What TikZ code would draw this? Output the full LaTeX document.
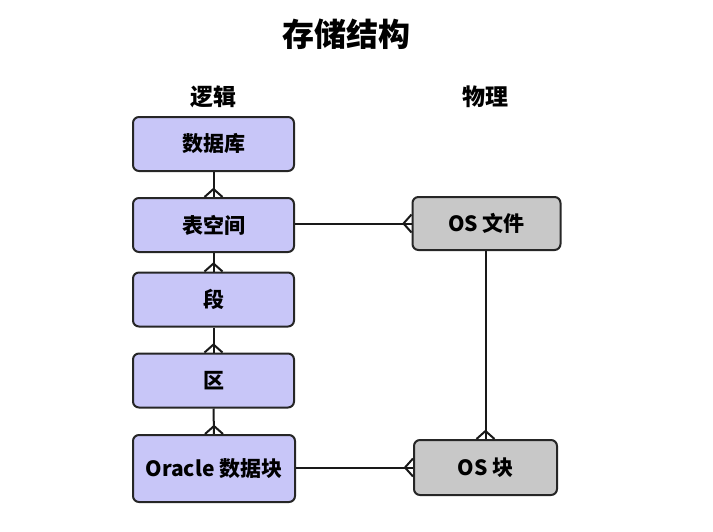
\documentclass[tikz,border=0pt]{standalone}
\usepackage{fontspec}
\setmainfont{Noto Sans CJK SC}
\usepackage{tikz}

\definecolor{logicfill}{RGB}{200,198,248}
\definecolor{physfill}{RGB}{200,200,200}

\tikzset{
    box/.style={draw=black!85, line width=1pt, rounded corners=3pt, fill=logicfill,
        minimum width=80.5pt, minimum height=27pt, inner sep=0pt, font=\fontsize{10.5}{12}\selectfont\bfseries},
    osbox/.style={box, fill=physfill},
    link/.style={line width=1pt, black!90},
    crow/.pic={\draw[link] (-9,0) -- (0,8) -- (9,0);}
}

\begin{document}
\begin{tikzpicture}[x=0.5pt, y=0.5pt]
    \useasboundingbox (0,0) rectangle (713,-531);
    % Title
    \node (title) at (346,-34) {\fontsize{16}{18}\selectfont\bfseries 存储结构};
    \node (logic) at (213,-97) {\fontsize{11.5}{13}\selectfont\bfseries 逻辑};
    \node (phys) at (485,-97) {\fontsize{11.5}{13}\selectfont\bfseries 物理};
    % Logical side
    \node[box] (db) at (213.5,-144) {数据库};
    \node[box] (ts) at (213.5,-225) {表空间};
    \node[box] (seg) at (213.5,-299.5) {段};
    \node[box] (ext) at (213.5,-380.5) {区};
    \node[box, minimum width=81pt, minimum height=33.5pt] (blk) at (214,-468.5) {Oracle 数据块};
    % Physical side
    \node[osbox, minimum width=74pt, minimum height=26.5pt] (osf) at (486.5,-223.5) {OS 文件};
    \node[osbox, minimum width=71.5pt, minimum height=27.5pt] (osb) at (485.5,-467.5) {OS 块};
    % Links
    \draw[link] (db.south) -- (ts.north);
    \pic at (ts.north) {crow};
    \draw[link] (ts.south) -- (seg.north);
    \pic at (seg.north) {crow};
    \draw[link] (seg.south) -- (ext.north);
    \pic at (ext.north) {crow};
    \draw[link] (ext.south) -- (blk.north);
    \pic at (blk.north) {crow};
    \draw[link] (ts.east |- osf.west) -- (osf.west);
    \pic[rotate=90] at (osf.west) {crow};
    \draw[link] (osb.north |- osf.south) -- (osb.north);
    \pic at (osb.north) {crow};
    \draw[link] (blk.east |- osb.west) -- (osb.west);
    \pic[rotate=90] at (osb.west) {crow};
\end{tikzpicture}
\end{document}
